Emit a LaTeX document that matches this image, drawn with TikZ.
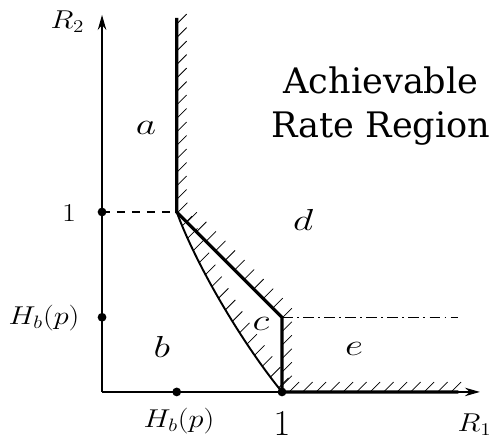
\documentclass[tikz,border=0pt]{standalone}
\usepackage{fontspec}
\newfontfamily\titlefont{DejaVu Serif}
\usepackage{tikz}
\usetikzlibrary{arrows.meta,decorations.markings}

\begin{document}
\begin{tikzpicture}[
  x=3.6cm, y=3.6cm,
  ax/.style={line width=0.8pt, -{Stealth[length=3mm, width=1.7mm]}},
  bound/.style={line width=1.8pt, line join=miter},
  edge/.style={line width=1.1pt},
  hatch/.style={postaction={decorate, decoration={markings,
      mark=between positions #1 and 1 step 0.27cm with {\pgftransformresetnontranslations
        \draw[line width=0.45pt] (0,0) -- (45:0.28cm);}}}},
  hatch/.default=0.12cm,
  dot/.style={circle, fill, inner sep=0pt, minimum size=5pt},
  lab/.style={inner sep=1pt, font=\LARGE, yscale=0.85},
  reg/.style={font=\LARGE, xscale=1.3}]
  \useasboundingbox (-0.567,-0.278) rectangle (2.167,2.178);
  % corners of the region, rates in units of one bit
  \coordinate (O) at (0,0);
  \coordinate (X) at (2.1,0);
  \coordinate (Y) at (0,2.095);
  \coordinate (T) at (0.415,2.078);
  \coordinate (P) at (0.415,1);
  \coordinate (Q) at (1,0.415);
  \coordinate (E) at (1.98,0);
  \coordinate (F) at (1.98,0.415);
  % axes
  \draw[ax] (O) -- (X);
  \draw[ax] (O) -- (Y);
  \node[dot] (y1) at (0,1) {};
  \node[dot] (yh) at (0,0.415) {};
  \node[dot] (xh) at (0.415,0) {};
  \node[dot] (x1) at (1,0) {};
  \draw[line width=0.7pt, dash pattern=on 4.5pt off 4pt] (y1.center) -- (P);
  \draw[line width=0.7pt, dash pattern=on 6pt off 2.5pt on 1pt off 2.5pt] (Q) -- (F);
  % bound of the achievable region
  \draw[bound, hatch] (T) -- (P) -- (Q) -- (x1.center) -- (E);
  \draw[edge, hatch=0.3cm] (P) .. controls (0.525,0.7) and (0.78,0.27) .. (x1.center);
  % labels
  \node[lab] (r2) at (-0.192,2.056) {$R_2$};
  \node[lab] (r1) at (2.07,-0.18) {$R_1$};
  \node[lab] (oney) at (-0.183,0.994) {$1$};
  \node[lab] (hby) at (-0.322,0.411) {$H_b(p)$};
  \node[lab] (hbx) at (0.428,-0.16) {$H_b(p)$};
  \node[lab, font=\huge, yscale=1/0.85] (onex) at (1,-0.178) {$1$};
  \node[reg] (ra) at (0.244,1.467) {$a$};
  \node[reg] (rb) at (0.333,0.25) {$b$};
  \node[reg] (rc) at (0.883,0.378) {$c$};
  \node[reg] (rd) at (1.117,0.956) {$d$};
  \node[reg] (re) at (1.4,0.24) {$e$};
  \node[font=\titlefont\fontsize{20}{25.5}\selectfont, align=center] (title) at (1.55,1.589) {Achievable\\Rate Region};
\end{tikzpicture}
\end{document}
